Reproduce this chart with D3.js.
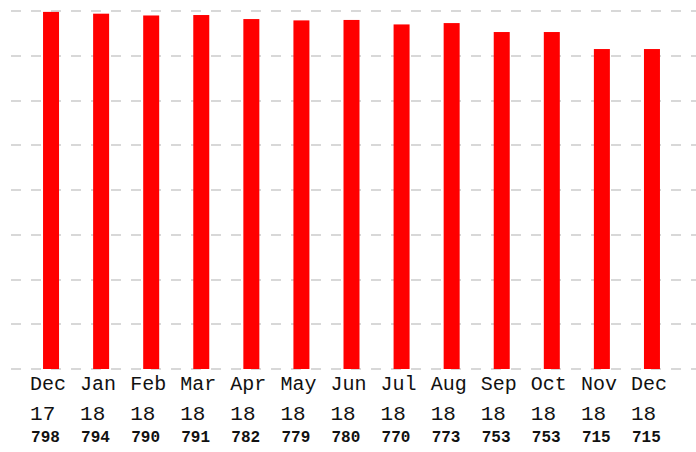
<!DOCTYPE html>
<html>
<head>
<meta charset="utf-8">
<script src="https://cdn.jsdelivr.net/npm/d3@7"></script>
<style>
  body { margin: 0; background: #fff; }
  text { font-family: "Liberation Mono", "DejaVu Sans Mono", monospace; fill: #111; }
</style>
</head>
<body>
<div id="chart"></div>
<script>
// monthly counts
const months = ['Dec', 'Jan', 'Feb', 'Mar', 'Apr', 'May', 'Jun', 'Jul', 'Aug', 'Sep', 'Oct', 'Nov', 'Dec'];
const years = ['17', '18', '18', '18', '18', '18', '18', '18', '18', '18', '18', '18', '18'];
const counts = [798, 794, 790, 791, 782, 779, 780, 770, 773, 753, 753, 715, 715];
const gridTicks = [0, 100, 200, 300, 400, 500, 600, 700, 800];

const width = 696, height = 452;
const keys = counts.map((d, i) => i);

const svg = d3.select('#chart')
  .append('svg')
  .attr('width', width)
  .attr('height', height);

const x = d3.scaleBand()
  .domain(keys)
  .range([26, 677])
  .padding(0);

const y = d3.scaleLinear()
  .domain([0, 800])
  .range([369, 11]);

const barWidth = 16;

// dashed grid
svg.append('g')
  .attr('class', 'grid')
  .selectAll('line')
  .data(gridTicks)
  .join('line')
  .attr('x1', 11)
  .attr('x2', width)
  .attr('y1', d => Math.round(y(d)))
  .attr('y2', d => Math.round(y(d)))
  .attr('stroke', '#d8d8d8')
  .attr('stroke-width', 2)
  .attr('stroke-dasharray', '10,10');

svg.append('g')
  .attr('class', 'bars')
  .selectAll('rect')
  .data(counts)
  .join('rect')
  .attr('x', (d, i) => x(i) + x.bandwidth() / 2 - barWidth / 2)
  .attr('width', barWidth)
  .attr('y', d => y(d))
  .attr('height', d => y(0) - y(d))
  .attr('fill', '#ff0000');

const labels = svg.append('g').attr('class', 'labels');
const labelX = i => x(i) + x.bandwidth() / 2 - 21;

labels.selectAll('.month')
  .data(months)
  .join('text')
  .attr('class', 'month')
  .attr('x', (d, i) => labelX(i))
  .attr('y', 390)
  .style('font-size', '20px')
  .text(d => d);

labels.selectAll('.year')
  .data(years)
  .join('text')
  .attr('class', 'year')
  .attr('x', (d, i) => labelX(i))
  .attr('y', 420)
  .style('font-size', '21px')
  .text(d => d);

labels.selectAll('.count')
  .data(counts)
  .join('text')
  .attr('class', 'count')
  .attr('x', (d, i) => labelX(i) + 1)
  .attr('y', 442)
  .style('font-size', '16px')
  .style('font-weight', 'bold')
  .text(d => d);
</script>
</body>
</html>
